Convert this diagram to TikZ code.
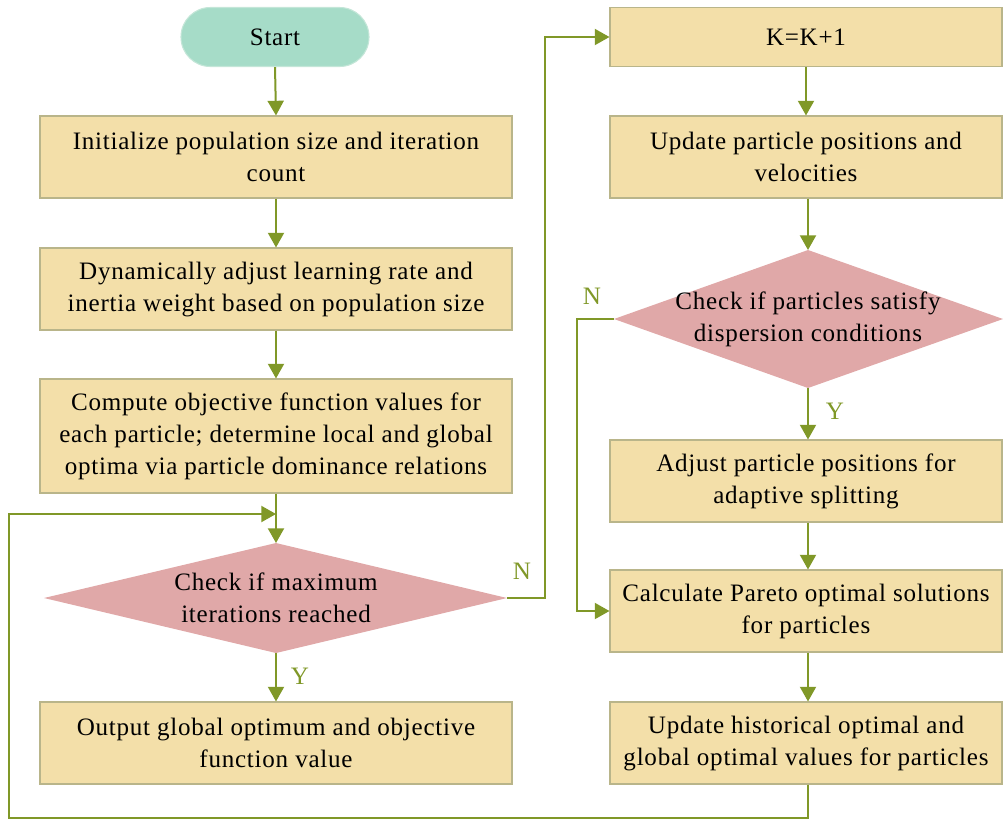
\documentclass[tikz,border=0pt]{standalone}
\usepackage{fontspec}
\setmainfont{Liberation Serif}[LetterSpace=3]
\usetikzlibrary{arrows.meta}
\definecolor{boxfill}{HTML}{F3DFA9}
\definecolor{boxdraw}{HTML}{B9B58A}
\definecolor{startfill}{HTML}{A6DCC8}
\definecolor{startdraw}{HTML}{C4E6D8}
\definecolor{dfill}{HTML}{E0A8A8}
\definecolor{arrcol}{HTML}{809828}
\begin{document}
\begin{tikzpicture}[x=0.75pt,y=-0.75pt,
  txt/.style={font=\fontsize{18.8}{24}\selectfont, align=center, inner sep=0pt},
  procL/.style={txt, draw=boxdraw, line width=0.8pt, fill=boxfill, minimum width=354pt, minimum height=61.5pt},
  procR/.style={txt, draw=boxdraw, line width=0.8pt, fill=boxfill, minimum width=294pt, minimum height=61.5pt},
  startbox/.style={txt, draw=startdraw, line width=0.8pt, fill=startfill, minimum width=141pt, minimum height=44.25pt, rounded corners=22pt},
  arr/.style={draw=arrcol, line width=1.5pt, -{Triangle[length=11pt,width=12pt]}},
  lab/.style={font=\fontsize{18.8}{24}\selectfont, text=arrcol, inner sep=0pt}
]
\useasboundingbox (0,0) rectangle (1003,819);

% left column
\node[startbox] (start) at (275,37) {Start};
\node[procL] (b1) at (276,157) {Initialize population size and iteration\\count};
\node[procL] (b2) at (276,289) {Dynamically adjust learning rate and\\inertia weight based on population size};
\node[procL, minimum height=85.5pt] (b3) at (276,436) {Compute objective function values for\\each particle; determine local and global\\optima via particle dominance relations};
\coordinate (d1l) at (44,598);
\coordinate (d1t) at (276,543);
\coordinate (d1r) at (507,598);
\coordinate (d1b) at (276,653);
\fill[dfill] (d1l) -- (d1t) -- (d1r) -- (d1b) -- cycle;
\node[txt] (d1) at (276,598) {Check if maximum\\iterations reached};
\node[procL] (b4) at (276,743) {Output global optimum and objective\\function value};

% right column
\node[procR, minimum height=44.25pt] (k) at (806,37) {K=K+1};
\node[procR] (u1) at (806,157) {Update particle positions and\\velocities};
\coordinate (d2l) at (614,319);
\coordinate (d2t) at (808,250);
\coordinate (d2r) at (1003,319);
\coordinate (d2b) at (808,388);
\fill[dfill] (d2l) -- (d2t) -- (d2r) -- (d2b) -- cycle;
\node[txt] (d2) at (808,319) {Check if particles satisfy\\dispersion conditions};
\node[procR] (adj) at (806,481) {Adjust particle positions for\\adaptive splitting};
\node[procR] (calc) at (806,611) {Calculate Pareto optimal solutions\\for particles};
\node[procR] (upd) at (806,743) {Update historical optimal and\\global optimal values for particles};

% connectors
\draw[arr] (start.south) -- (b1.north);
\draw[arr] (b1.south) -- (b2.north);
\draw[arr] (b2.south) -- (b3.north);
\draw[arr] (b3.south) -- (d1t);
\draw[arr] (d1b) -- (b4.north);
\draw[arr] (d1r) -- (545,598) |- (k.west);
\draw[arr] (k.south) -- (u1.north);
\draw[arr] (u1.south -| d2t) -- (d2t);
\draw[arr] (d2b) -- (adj.north -| d2b);
\draw[arr] (adj.south -| d2b) -- (calc.north -| d2b);
\draw[arr] (calc.south -| d2b) -- (upd.north -| d2b);
\draw[arr] (d2l) -- (577,319) |- (calc.west);
\draw[arr] (upd.south -| d2b) -- (808,818) -| (9,514) -- (276,514);

% labels
\node[lab] (n1) at (522,571) {N};
\node[lab] (n2) at (592,296) {N};
\node[lab] (y1) at (300,676) {Y};
\node[lab] (y2) at (835,411) {Y};
\end{tikzpicture}
\end{document}
